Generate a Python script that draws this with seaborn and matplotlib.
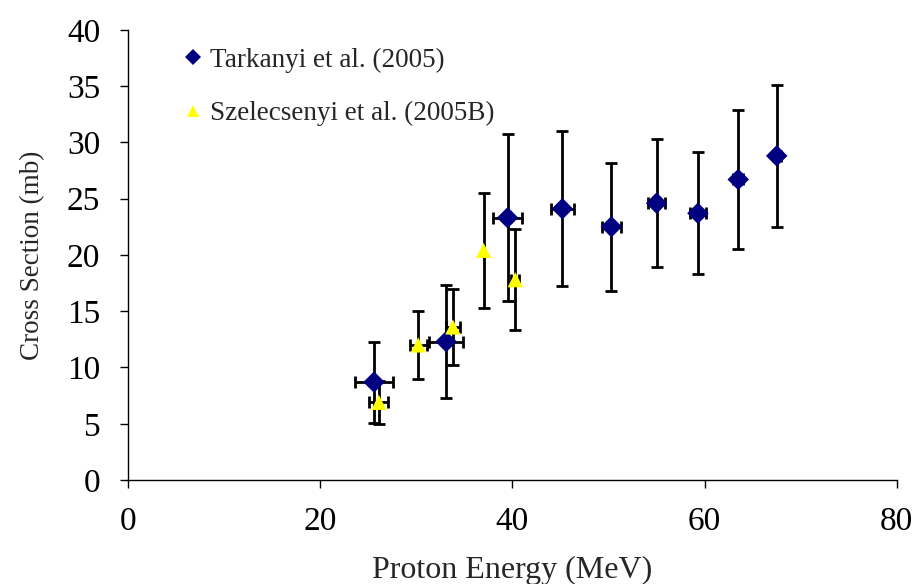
import matplotlib
matplotlib.use("Agg")
import matplotlib.pyplot as plt
import seaborn as sns
import pandas as pd
import numpy as np

# Tarkanyi et al. (2005)
tark_E = [25.6, 33.1, 39.5, 45.2, 50.3, 55.0, 59.3, 63.5, 67.5]
tark_xerr = [2.0, 1.8, 1.5, 1.2, 1.0, 0.9, 0.8, 0.5, 0.4]
tark_cs = [8.7, 12.3, 23.3, 24.1, 22.5, 24.6, 23.7, 26.7, 28.8]
tark_yerr = [3.6, 5.0, 7.4, 6.9, 5.7, 5.7, 5.4, 6.2, 6.3]

# Szelecsenyi et al. (2005B)
szel_E = [26.1, 30.2, 33.8, 37.0, 40.3]
szel_xerr = [1.0, 0.9, 0.7, 0.0, 0.4]
szel_cs = [6.9, 12.0, 13.6, 20.4, 17.8]
szel_yerr = [1.9, 3.0, 3.4, 5.1, 4.5]

labels = ["Tarkanyi et al. (2005)", "Szelecsenyi et al. (2005B)"]
x_ticks = [0, 20, 40, 60, 80]
y_ticks = [0, 5, 10, 15, 20, 25, 30, 35, 40]

sns.set_style("white")
plt.rcParams['font.family'] = ['Liberation Serif', 'DejaVu Serif']

fig = plt.figure(figsize=(9.17, 5.84), dpi=100)
ax = fig.add_axes([0.1396, 0.178, 0.8384, 0.771])

df = pd.concat([
    pd.DataFrame({"E": tark_E, "cs": tark_cs, "src": labels[0]}),
    pd.DataFrame({"E": szel_E, "cs": szel_cs, "src": labels[1]}),
])

ax.errorbar(tark_E, tark_cs, xerr=tark_xerr, yerr=tark_yerr, fmt='none',
            ecolor='black', elinewidth=2, capsize=4.5, capthick=2, zorder=2)
ax.errorbar(szel_E, szel_cs, xerr=szel_xerr, yerr=szel_yerr, fmt='none',
            ecolor='black', elinewidth=2, capsize=4.5, capthick=2, zorder=2)

sns.scatterplot(data=df, x="E", y="cs", hue="src", style="src",
                markers={labels[0]: "D", labels[1]: "^"},
                palette={labels[0]: "#000080", labels[1]: "#FFFF00"},
                s=120, edgecolor='none', linewidth=0, ax=ax, zorder=3)

ax.set_xlim(0, 80)
ax.set_ylim(0, 40)
ax.set_xticks(x_ticks)
ax.set_yticks(y_ticks)
ax.tick_params(axis='both', which='major', labelsize=24, direction='out',
               length=6, width=1, colors='black', left=True, bottom=True)
ax.tick_params(axis='y', pad=14)
ax.tick_params(axis='x', pad=13)
for s in ['top', 'right']:
    ax.spines[s].set_visible(False)
for s in ['left', 'bottom']:
    ax.spines[s].set_color('black')
    ax.spines[s].set_linewidth(1)

ax.set_xlabel("Proton Energy (MeV)", fontsize=23, labelpad=14)
ax.set_ylabel("Cross Section (mb)", fontsize=19.5, labelpad=16)

leg = ax.legend(loc='upper left', bbox_to_anchor=(0.035, 0.985), frameon=False,
                fontsize=19.5, handletextpad=-0.35, labelspacing=1.05,
                markerscale=0.75, borderaxespad=0.0)

fig.savefig("out.png", dpi=100)
